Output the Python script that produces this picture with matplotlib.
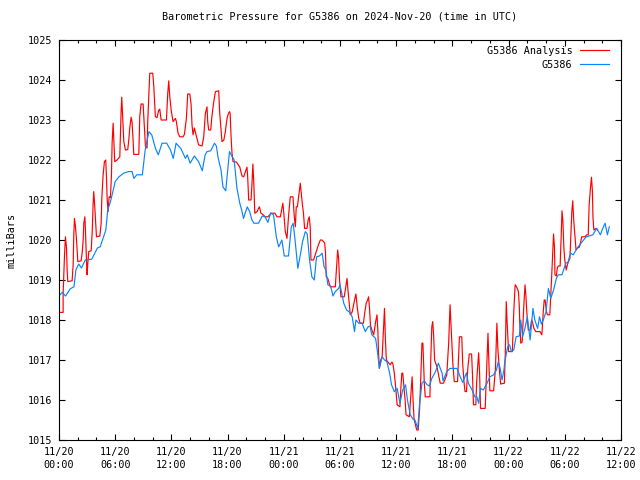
import matplotlib
matplotlib.use('Agg')

import numpy as np
import matplotlib.pyplot as plt
from matplotlib.ticker import MultipleLocator

# === Data: (hours since 2024-11-20 00:00 UTC, pressure in mb) ===
analysis = [
    (0.0, 1018.19), (0.44, 1018.19), (0.44, 1018.67), (0.59, 1019.63), (0.69, 1020.08),
    (0.80, 1019.8), (0.87, 1019.25), (0.94, 1018.96), (1.40, 1018.98), (1.51, 1019.38),
    (1.58, 1020.13), (1.65, 1020.54), (1.76, 1020.33), (1.87, 1020.0), (2.01, 1019.46),
    (2.36, 1019.48), (2.47, 1019.67), (2.58, 1020.0), (2.65, 1020.42), (2.76, 1020.58),
    (2.83, 1020.2), (2.93, 1019.5), (3.00, 1019.13), (3.07, 1019.4), (3.18, 1019.71),
    (3.43, 1019.73), (3.54, 1020.17), (3.64, 1020.88), (3.71, 1021.21), (3.82, 1020.83),
    (3.93, 1020.4), (4.00, 1020.08), (4.36, 1020.1), (4.50, 1020.42), (4.57, 1021.04),
    (4.71, 1021.63), (4.85, 1021.96), (4.99, 1022.0), (5.07, 1021.55), (5.14, 1021.04),
    (5.24, 1020.71), (5.35, 1021.08), (5.49, 1021.06), (5.60, 1021.63), (5.67, 1022.42),
    (5.78, 1022.92), (5.85, 1022.5), (5.95, 1021.96), (6.20, 1022.0), (6.49, 1022.08),
    (6.63, 1023.21), (6.70, 1023.57), (6.77, 1023.2), (6.92, 1022.46), (7.09, 1022.25),
    (7.34, 1022.26), (7.45, 1022.5), (7.55, 1022.79), (7.70, 1023.07), (7.80, 1022.95),
    (7.91, 1022.5), (7.98, 1022.14), (8.52, 1022.14), (8.62, 1023.08), (8.76, 1023.4),
    (8.98, 1023.4), (9.05, 1023.1), (9.23, 1022.33), (9.40, 1022.3), (9.48, 1023.0),
    (9.62, 1023.77), (9.69, 1024.17), (10.01, 1024.17), (10.12, 1023.84), (10.29, 1023.08),
    (10.47, 1023.06), (10.65, 1023.25), (10.76, 1023.27), (10.90, 1023.0), (11.47, 1023.0),
    (11.61, 1023.67), (11.72, 1023.98), (11.82, 1023.6), (11.97, 1023.25), (12.18, 1022.96),
    (12.43, 1023.04), (12.53, 1022.96), (12.71, 1022.67), (12.89, 1022.58), (13.24, 1022.58),
    (13.39, 1022.64), (13.60, 1023.04), (13.74, 1023.65), (13.96, 1023.65), (14.10, 1023.4),
    (14.20, 1022.88), (14.31, 1022.63), (14.45, 1022.8), (14.9, 1022.38), (15.27, 1022.35),
    (15.45, 1022.58), (15.63, 1023.17), (15.8, 1023.33), (15.88, 1022.95), (15.98, 1022.75),
    (16.2, 1022.75), (16.3, 1023.04), (16.5, 1023.42), (16.7, 1023.71), (17.05, 1023.73),
    (17.15, 1023.2), (17.3, 1022.75), (17.4, 1022.46), (17.6, 1022.5), (17.76, 1022.71),
    (17.94, 1023.04), (18.1, 1023.17), (18.2, 1023.21), (18.27, 1023.17), (18.37, 1022.58),
    (18.47, 1022.17), (18.58, 1021.96), (18.93, 1021.95), (19.29, 1021.83), (19.54, 1021.6),
    (19.72, 1021.58), (19.9, 1021.71), (20.07, 1021.82), (20.15, 1021.55), (20.25, 1021.0),
    (20.5, 1021.0), (20.6, 1021.4), (20.7, 1021.9), (20.8, 1021.4), (20.9, 1020.67),
    (21.15, 1020.71), (21.3, 1020.79), (21.4, 1020.83), (21.56, 1020.67), (21.8, 1020.63),
    (22.0, 1020.58), (22.3, 1020.58), (22.5, 1020.63), (22.7, 1020.67), (23.05, 1020.67),
    (23.27, 1020.58), (23.63, 1020.58), (23.8, 1020.79), (23.9, 1020.92), (24.0, 1020.67),
    (24.16, 1020.21), (24.34, 1020.04), (24.5, 1020.58), (24.69, 1021.08), (24.98, 1021.08),
    (25.12, 1020.58), (25.23, 1020.33), (25.33, 1020.83), (25.45, 1020.83), (25.58, 1021.08),
    (25.68, 1021.29), (25.76, 1021.42), (25.85, 1021.2), (25.97, 1020.92), (26.1, 1020.67),
    (26.22, 1020.29), (26.47, 1020.29), (26.6, 1020.5), (26.72, 1020.58), (26.82, 1020.33),
    (26.9, 1019.5), (27.18, 1019.5), (27.47, 1019.71), (27.7, 1019.88), (27.9, 1020.0),
    (28.07, 1020.0), (28.36, 1019.93), (28.45, 1019.7), (28.53, 1019.08), (28.7, 1019.04),
    (28.95, 1018.83), (29.5, 1018.83), (29.6, 1019.2), (29.7, 1019.6), (29.75, 1019.75),
    (29.85, 1019.55), (29.95, 1019.0), (30.1, 1018.58), (30.45, 1018.58), (30.6, 1018.8),
    (30.75, 1019.04), (30.85, 1018.75), (31.0, 1018.38), (31.1, 1018.13), (31.3, 1018.2),
    (31.45, 1018.38), (31.6, 1018.55), (31.7, 1018.65), (31.85, 1018.3), (32.0, 1018.04),
    (32.15, 1017.92), (32.5, 1017.92), (32.65, 1018.2), (32.8, 1018.42), (32.95, 1018.5),
    (33.05, 1018.58), (33.15, 1018.3), (33.25, 1017.88), (33.4, 1017.75), (33.6, 1017.63),
    (33.8, 1017.95), (33.95, 1018.13), (34.05, 1017.7), (34.1, 1017.25), (34.2, 1016.79),
    (34.35, 1017.0), (34.5, 1017.08), (34.65, 1017.83), (34.75, 1018.29), (34.85, 1017.5),
    (34.95, 1017.0), (35.35, 1016.88), (35.55, 1016.95), (35.65, 1016.9), (35.8, 1016.67),
    (35.95, 1016.3), (36.1, 1015.88), (36.4, 1015.83), (36.5, 1016.3), (36.6, 1016.67),
    (36.7, 1016.67), (36.8, 1016.4), (36.95, 1016.0), (37.05, 1015.63), (37.4, 1015.58),
    (37.55, 1016.1), (37.7, 1016.58), (37.8, 1016.0), (37.9, 1015.54), (38.05, 1015.38),
    (38.2, 1015.25), (38.35, 1015.25), (38.5, 1015.79), (38.6, 1016.4), (38.75, 1017.42),
    (38.85, 1017.42), (39.0, 1016.42), (39.1, 1016.08), (39.6, 1016.08), (39.7, 1017.1),
    (39.8, 1017.83), (39.9, 1017.96), (40.0, 1017.6), (40.1, 1017.0), (40.35, 1016.83),
    (40.7, 1016.42), (41.05, 1016.42), (41.4, 1016.63), (41.6, 1017.42), (41.7, 1018.1),
    (41.75, 1018.38), (41.85, 1017.9), (42.05, 1016.9), (42.2, 1016.46), (42.55, 1016.46),
    (42.7, 1017.3), (42.75, 1017.58), (43.0, 1017.58), (43.1, 1016.9), (43.25, 1016.42),
    (43.35, 1016.21), (43.5, 1016.21), (43.65, 1016.8), (43.8, 1017.15), (44.05, 1017.15),
    (44.15, 1016.6), (44.25, 1015.88), (44.5, 1015.88), (44.6, 1016.5), (44.8, 1017.18),
    (44.9, 1016.7), (45.0, 1015.79), (45.5, 1015.79), (45.6, 1016.4), (45.7, 1016.96),
    (45.8, 1017.67), (45.9, 1016.9), (46.0, 1016.23), (46.4, 1016.23), (46.6, 1016.8),
    (46.75, 1017.92), (46.85, 1017.3), (47.0, 1016.79), (47.15, 1016.4), (47.55, 1016.42),
    (47.65, 1017.2), (47.75, 1018.46), (47.85, 1017.9), (48.0, 1017.21), (48.4, 1017.21),
    (48.55, 1018.2), (48.7, 1018.88), (48.85, 1018.83), (49.05, 1018.71), (49.15, 1018.3),
    (49.2, 1017.88), (49.3, 1017.42), (49.45, 1017.45), (49.6, 1018.25), (49.75, 1018.88),
    (49.85, 1018.6), (49.95, 1018.17), (50.1, 1017.75), (50.3, 1017.75), (50.45, 1018.0),
    (50.55, 1017.95), (50.7, 1017.79), (50.9, 1017.71), (51.35, 1017.71), (51.55, 1017.63),
    (51.7, 1018.2), (51.8, 1018.5), (51.9, 1018.5), (52.05, 1018.2), (52.15, 1018.13),
    (52.4, 1018.13), (52.5, 1018.6), (52.6, 1019.1), (52.7, 1019.63), (52.8, 1020.15),
    (52.9, 1019.8), (52.95, 1019.13), (53.1, 1019.1), (53.2, 1019.3), (53.3, 1019.35),
    (53.5, 1019.35), (53.6, 1020.0), (53.7, 1020.73), (53.8, 1020.46), (53.9, 1019.8),
    (54.0, 1019.5), (54.15, 1019.25), (54.3, 1019.4), (54.55, 1019.55), (54.75, 1020.71),
    (54.85, 1020.98), (54.95, 1020.5), (55.1, 1020.04), (55.2, 1019.75), (55.35, 1019.8),
    (55.55, 1019.82), (55.7, 1019.95), (55.8, 1020.08), (56.15, 1020.08), (56.35, 1020.13),
    (56.5, 1020.13), (56.6, 1020.88), (56.75, 1021.33), (56.85, 1021.57), (56.95, 1021.21),
    (57.0, 1020.6), (57.1, 1020.25), (57.35, 1020.29), (57.5, 1020.25),
]

station = [
    (0.1, 1018.63), (0.35, 1018.69), (0.7, 1018.6), (1.2, 1018.78), (1.6, 1018.83),
    (1.8, 1019.25), (2.1, 1019.4), (2.4, 1019.3), (2.8, 1019.5), (3.5, 1019.52),
    (4.1, 1019.8), (4.4, 1019.83), (5.0, 1020.25), (5.2, 1020.75), (5.5, 1020.96),
    (6.0, 1021.46), (6.4, 1021.58), (6.9, 1021.67), (7.4, 1021.71), (7.8, 1021.71),
    (8.0, 1021.54), (8.3, 1021.63), (8.9, 1021.63), (9.2, 1022.25), (9.6, 1022.71),
    (9.9, 1022.63), (10.3, 1022.29), (10.6, 1022.13), (11.0, 1022.42), (11.5, 1022.42),
    (11.9, 1022.25), (12.2, 1022.04), (12.5, 1022.42), (13.0, 1022.29), (13.5, 1022.04),
    (13.7, 1022.13), (14.0, 1021.92), (14.45, 1022.1), (14.9, 1021.96), (15.3, 1021.73),
    (15.6, 1022.13), (15.8, 1022.21), (16.2, 1022.23), (16.6, 1022.42), (16.8, 1022.35),
    (17.0, 1022.04), (17.3, 1021.75), (17.5, 1021.33), (17.8, 1021.23), (18.0, 1021.71),
    (18.2, 1022.21), (18.5, 1022.08), (18.7, 1022.0), (19.0, 1021.29), (19.3, 1020.92),
    (19.5, 1020.75), (19.7, 1020.54), (20.1, 1020.83), (20.35, 1020.71), (20.6, 1020.5),
    (20.8, 1020.42), (21.3, 1020.42), (21.7, 1020.6), (22.0, 1020.58), (22.3, 1020.44),
    (22.6, 1020.68), (22.9, 1020.63), (23.2, 1020.08), (23.45, 1019.83), (23.6, 1019.9),
    (23.8, 1020.0), (24.05, 1019.6), (24.5, 1019.6), (24.8, 1020.33), (25.0, 1020.42),
    (25.2, 1020.0), (25.5, 1019.29), (25.8, 1019.67), (26.0, 1019.96), (26.3, 1020.21),
    (26.5, 1020.15), (26.75, 1019.5), (27.0, 1019.08), (27.25, 1019.0), (27.5, 1019.58),
    (27.8, 1019.6), (28.1, 1019.67), (28.3, 1019.33), (28.5, 1019.25), (28.7, 1018.88),
    (29.0, 1018.85), (29.25, 1018.6), (29.5, 1018.71), (29.85, 1018.79), (30.0, 1018.88),
    (30.4, 1018.42), (30.7, 1018.25), (31.0, 1018.2), (31.3, 1018.08), (31.55, 1017.71),
    (31.7, 1018.0), (32.0, 1017.92), (32.35, 1017.92), (32.7, 1017.71), (33.0, 1017.83),
    (33.2, 1017.85), (33.4, 1017.63), (33.8, 1017.54), (34.0, 1017.21), (34.2, 1016.79),
    (34.5, 1017.08), (34.75, 1017.0), (35.0, 1016.96), (35.3, 1016.67), (35.5, 1016.38),
    (35.8, 1016.21), (36.1, 1016.29), (36.4, 1015.92), (36.7, 1016.25), (37.0, 1016.38),
    (37.2, 1016.0), (37.5, 1015.63), (37.8, 1015.52), (38.0, 1015.5), (38.3, 1015.29),
    (38.5, 1015.92), (38.75, 1016.42), (39.0, 1016.48), (39.3, 1016.38), (39.55, 1016.35),
    (39.8, 1016.54), (40.2, 1016.71), (40.5, 1016.92), (40.9, 1016.67), (41.0, 1016.48),
    (41.4, 1016.71), (41.75, 1016.79), (42.5, 1016.79), (42.8, 1016.6), (43.1, 1016.44),
    (43.5, 1016.68), (43.7, 1016.42), (44.1, 1016.25), (44.4, 1016.08), (44.6, 1016.08),
    (44.8, 1015.92), (45.0, 1016.29), (45.3, 1016.25), (45.7, 1016.42), (46.0, 1016.58),
    (46.4, 1016.63), (46.7, 1016.75), (46.9, 1016.96), (47.1, 1016.79), (47.3, 1016.5),
    (47.5, 1016.75), (47.6, 1016.96), (47.9, 1017.33), (48.1, 1017.38), (48.3, 1017.21),
    (48.55, 1017.25), (48.8, 1017.58), (49.15, 1017.6), (49.3, 1018.0), (49.5, 1017.58),
    (49.75, 1017.8), (50.0, 1018.08), (50.3, 1017.5), (50.6, 1018.29), (50.8, 1018.0),
    (51.1, 1017.79), (51.3, 1018.08), (51.5, 1017.9), (51.7, 1018.0), (52.0, 1018.21),
    (52.25, 1018.79), (52.5, 1018.54), (52.8, 1018.75), (53.1, 1019.04), (53.3, 1019.13),
    (53.7, 1019.13), (54.1, 1019.42), (54.35, 1019.45), (54.6, 1019.67), (54.9, 1019.63),
    (55.3, 1019.79), (55.6, 1019.88), (56.0, 1020.0), (56.3, 1020.08), (57.0, 1020.13),
    (57.4, 1020.29), (57.8, 1020.13), (58.05, 1020.29), (58.3, 1020.42), (58.55, 1020.13),
    (58.75, 1020.33),
]

tick_hours = [0, 6, 12, 18, 24, 30, 36, 42, 48, 54, 60]
tick_labels = ["11/20\n00:00", "11/20\n06:00", "11/20\n12:00", "11/20\n18:00",
               "11/21\n00:00", "11/21\n06:00", "11/21\n12:00", "11/21\n18:00",
               "11/22\n00:00", "11/22\n06:00", "11/22\n12:00"]

a_h, a_mb = np.array(analysis).T
s_h, s_mb = np.array(station).T

plt.rcParams['font.family'] = ['DejaVu Sans Mono']
plt.rcParams['font.size'] = 7.3

fig = plt.figure(figsize=(6.4, 4.8), dpi=100)
ax = fig.add_axes([59 / 640, 40 / 480, 562 / 640, 400 / 480])

ax.plot(a_h, a_mb, color="#ff0000", lw=0.85, label="G5386 Analysis")
ax.plot(s_h, s_mb, color="#0a84ff", lw=0.85, label="G5386")

ax.set_xlim(0, 60)
ax.set_ylim(1015, 1025)
ax.set_xticks(tick_hours)
ax.set_xticklabels(tick_labels, linespacing=1.35)
ax.xaxis.set_minor_locator(MultipleLocator(2))
ax.yaxis.set_major_locator(MultipleLocator(1))
ax.tick_params(which='both', direction='in', top=True, right=True, width=0.8, colors='black')
ax.tick_params(which='major', length=4.5, pad=5)
ax.tick_params(which='minor', length=2.2)
for s in ax.spines.values():
    s.set_linewidth(0.8)

ax.set_ylabel("milliBars", labelpad=8)
ax.set_title("Barometric Pressure for G5386 on 2024-Nov-20 (time in UTC)",
             fontsize=7.3, pad=15)

leg = ax.legend(loc='upper right', bbox_to_anchor=(550 / 562, 0.985), frameon=False,
                markerfirst=False, handlelength=2.9, handletextpad=0.7,
                labelspacing=0.35, borderaxespad=0, borderpad=0)
leg._legend_box.align = "right"

fig.savefig("out.png", dpi=100)
